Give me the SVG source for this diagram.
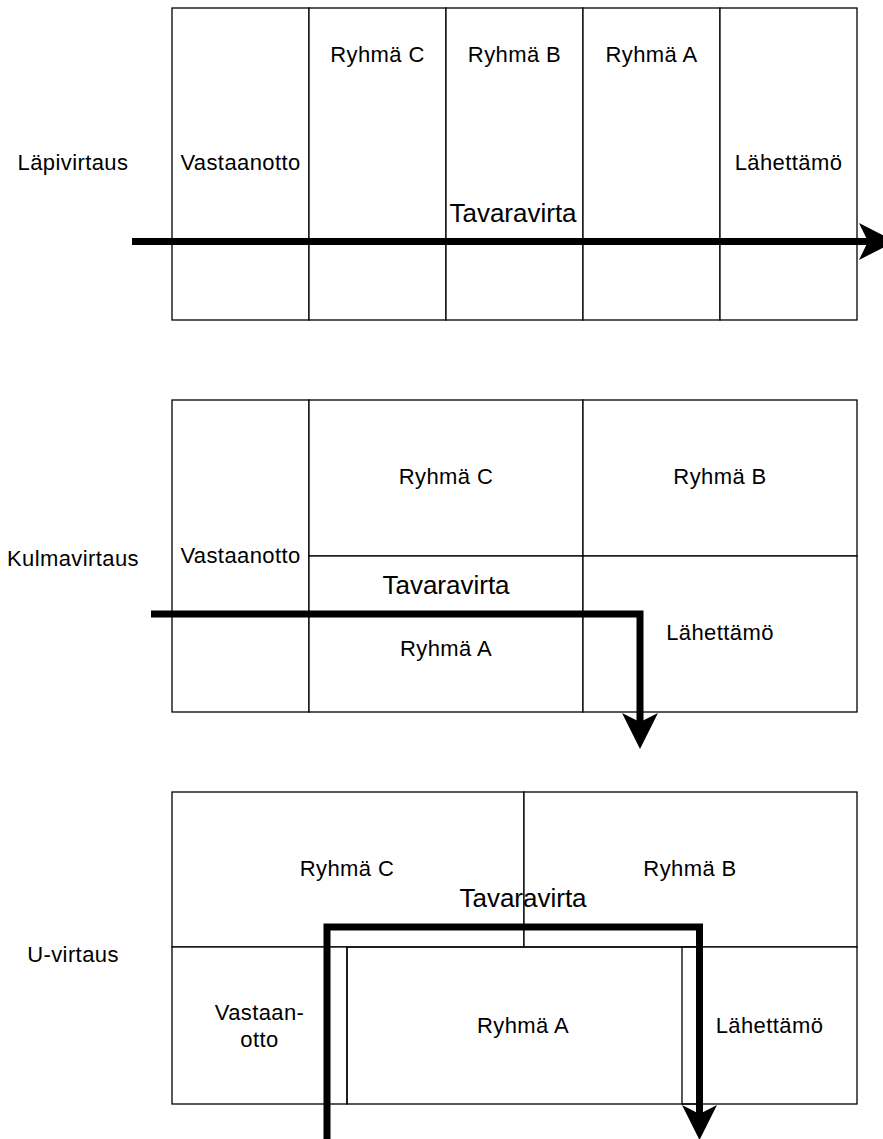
<svg xmlns="http://www.w3.org/2000/svg" width="883" height="1139" viewBox="0 0 883 1139">
<style>
.cell{fill:#fff;stroke:#000;stroke-width:1.3}
.ln{stroke:#000;stroke-width:1.3;fill:none}
.t{font-family:"Liberation Sans",Arial,sans-serif;font-size:22px;letter-spacing:0.4px;fill:#000;text-anchor:middle}
.big{font-family:"Liberation Sans",Arial,sans-serif;font-size:26px;fill:#000;text-anchor:middle}
.flow{stroke:#000;stroke-width:7;fill:none;stroke-linejoin:miter;stroke-linecap:butt}
.head{fill:#000}
</style>
<rect width="883" height="1139" fill="#fff"/>

<!-- Läpivirtaus -->
<g id="label-lapivirtaus"><text class="t" x="73" y="170">Läpivirtaus</text></g>
<g id="top-vastaanotto"><rect class="cell" x="172" y="8" width="137" height="312"/><text class="t" x="240.5" y="170">Vastaanotto</text></g>
<g id="top-ryhma-c"><rect class="cell" x="309" y="8" width="137" height="312"/><text class="t" x="377.5" y="62">Ryhmä C</text></g>
<g id="top-ryhma-b"><rect class="cell" x="446" y="8" width="137" height="312"/><text class="t" x="514.5" y="62">Ryhmä B</text></g>
<g id="top-ryhma-a"><rect class="cell" x="583" y="8" width="137" height="312"/><text class="t" x="651.5" y="62">Ryhmä A</text></g>
<g id="top-lahettamo"><rect class="cell" x="720" y="8" width="137" height="312"/><text class="t" x="788.5" y="170">Lähettämö</text></g>

<!-- Kulmavirtaus -->
<g id="label-kulmavirtaus"><text class="t" x="73" y="566">Kulmavirtaus</text></g>
<g id="mid-vastaanotto"><rect class="cell" x="172" y="400" width="137" height="312"/><text class="t" x="240.5" y="563">Vastaanotto</text></g>
<g id="mid-ryhma-c"><rect class="cell" x="309" y="400" width="274" height="156"/><text class="t" x="446" y="484">Ryhmä C</text></g>
<g id="mid-ryhma-b"><rect class="cell" x="583" y="400" width="274" height="156"/><text class="t" x="720" y="484">Ryhmä B</text></g>
<g id="mid-ryhma-a"><rect class="cell" x="309" y="556" width="274" height="156"/><text class="t" x="446" y="656">Ryhmä A</text></g>
<g id="mid-lahettamo"><rect class="cell" x="583" y="556" width="274" height="156"/><text class="t" x="720" y="640">Lähettämö</text></g>

<!-- U-virtaus -->
<g id="label-uvirtaus"><text class="t" x="73" y="962">U-virtaus</text></g>
<g id="bot-ryhma-c"><rect class="cell" x="172" y="792" width="352" height="155"/><text class="t" x="347" y="876">Ryhmä C</text></g>
<g id="bot-ryhma-b"><rect class="cell" x="524" y="792" width="333" height="155"/><text class="t" x="690" y="876">Ryhmä B</text></g>
<g id="bot-vastaanotto"><rect class="cell" x="172" y="947" width="175" height="157"/><text class="t" x="259.5" y="1020">Vastaan-</text><text class="t" x="259.5" y="1047">otto</text></g>
<g id="bot-lahettamo"><rect class="cell" x="682" y="947" width="175" height="157"/><text class="t" x="769.5" y="1033">Lähettämö</text></g>
<g id="bot-ryhma-a"><rect class="cell" x="347" y="947" width="352" height="157" style="fill:none"/><text class="t" x="523" y="1033">Ryhmä A</text></g>

<!-- connectors -->
<g id="connectors">
  <g id="flow-top">
    <line class="flow" x1="132" y1="241.5" x2="868" y2="241.5"/>
    <path class="head" d="M859,223 L895,241.5 L859,260 L868,241.5 Z"/>
    <text class="big" x="513" y="222">Tavaravirta</text>
  </g>
  <g id="flow-mid">
    <path class="flow" d="M151,614 H640 V724"/>
    <path class="head" d="M622,713 L640,749 L658,713 L640,722 Z"/>
    <text class="big" x="446" y="594">Tavaravirta</text>
  </g>
  <g id="flow-bot">
    <path class="flow" d="M327,1139 V927 H699.5 V1116"/>
    <path class="head" d="M682,1105 L699.5,1140 L717,1105 L699.5,1114 Z"/>
    <text class="big" x="523" y="907">Tavaravirta</text>
  </g>
</g>
</svg>
